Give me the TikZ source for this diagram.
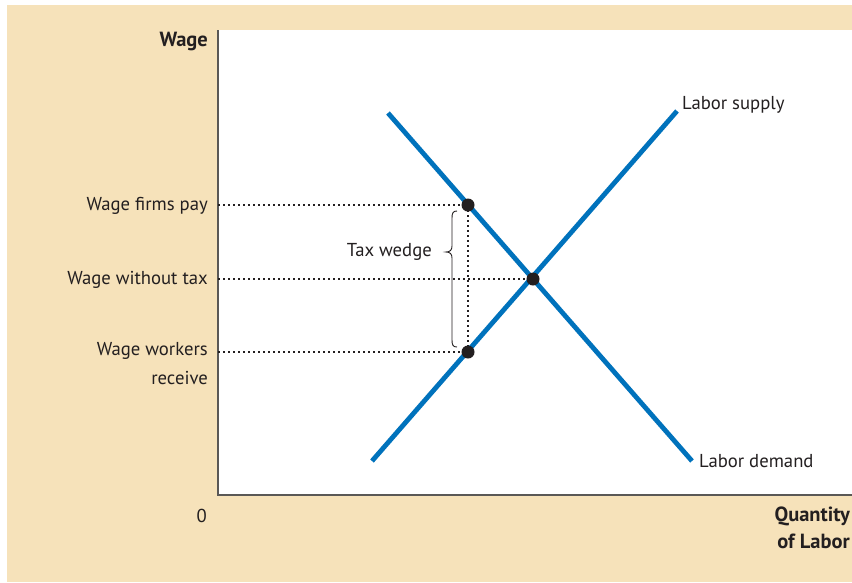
\documentclass[tikz,border=0pt]{standalone}
\usepackage{fontspec}
\setmainfont{PT Sans}
\begin{document}
\begin{tikzpicture}[x=1pt,y=-1pt,
  lbl/.style={font=\fontsize{18.7}{20}\selectfont, text=txt, inner sep=0pt},
  blbl/.style={font=\fontsize{20.5}{25}\selectfont\bfseries, text=txt, inner sep=0pt, align=right},
  curve/.style={draw=curveblue, line width=4.8pt},
  guide/.style={draw=txt, line width=1.8pt, dash pattern=on 1.8pt off 3.2pt},
  dot/.style={circle, fill=txt, inner sep=0pt, minimum size=13pt},
  axis/.style={draw=axisgray, line width=1.4pt}]
\definecolor{bg}{RGB}{246,226,186}
\definecolor{curveblue}{RGB}{0,114,188}
\definecolor{txt}{RGB}{35,31,32}
\definecolor{axisgray}{RGB}{90,88,86}
\useasboundingbox (0,0) rectangle (852,582);
\fill[white] (0,0) rectangle (852,582);
\fill[bg] (7,5) rectangle (852,582);
\fill[white] (218,30) rectangle (852,495);
% axes
\coordinate (ytop) at (218,30);
\coordinate (origin) at (218,495);
\coordinate (xend) at (852,495);
\draw[axis] (ytop) -- (origin) -- (xend);
% curves
\coordinate (d1) at (388,113);
\coordinate (d2) at (692,461);
\coordinate (s1) at (372,461);
\coordinate (s2) at (677,111);
\draw[curve] (d1) -- (d2);
\draw[curve] (s1) -- (s2);
% points
\coordinate (E) at (533,279);
\coordinate (P) at (468,205);
\coordinate (R) at (468,352);
\coordinate (yP) at (218,205);
\coordinate (yE) at (218,279);
\coordinate (yR) at (218,352);
\draw[guide] (yP) -- (P);
\draw[guide] (yE) -- (E);
\draw[guide] (yR) -- (R);
\draw[guide] (P) -- (R);
\node[dot] (dP) at (P) {};
\node[dot] (dE) at (E) {};
\node[dot] (dR) at (R) {};
% brace
\draw[txt, line width=0.9pt] (457,211) .. controls (453,211) and (452,213) .. (452,218) -- (452,246) .. controls (452,250) and (450,252) .. (446,252) .. controls (450,252) and (452,254) .. (452,258) -- (452,340) .. controls (452,345) and (453,347) .. (457,347);
\node[lbl, anchor=east] (tw) at (432,252) {Tax wedge};
% labels
\node[blbl, anchor=east] (wage) at (208,41) {Wage};
\node[lbl, anchor=east] (lfp) at (208,206) {Wage firms pay};
\node[lbl, anchor=east] (lwt) at (208,280) {Wage without tax};
\node[lbl, anchor=east] (lwr1) at (208,351) {Wage workers};
\node[lbl, anchor=east] (lwr2) at (208,378) {receive};
\node[lbl, anchor=east] (zero) at (207,516) {0};
\node[blbl, anchor=east] (q1) at (850,516) {Quantity};
\node[blbl, anchor=east] (q2) at (850,541) {of Labor};
\node[lbl, anchor=west] (ls) at (682,105) {Labor supply};
\node[lbl, anchor=west] (ld) at (699,461) {Labor demand};
\end{tikzpicture}
\end{document}
